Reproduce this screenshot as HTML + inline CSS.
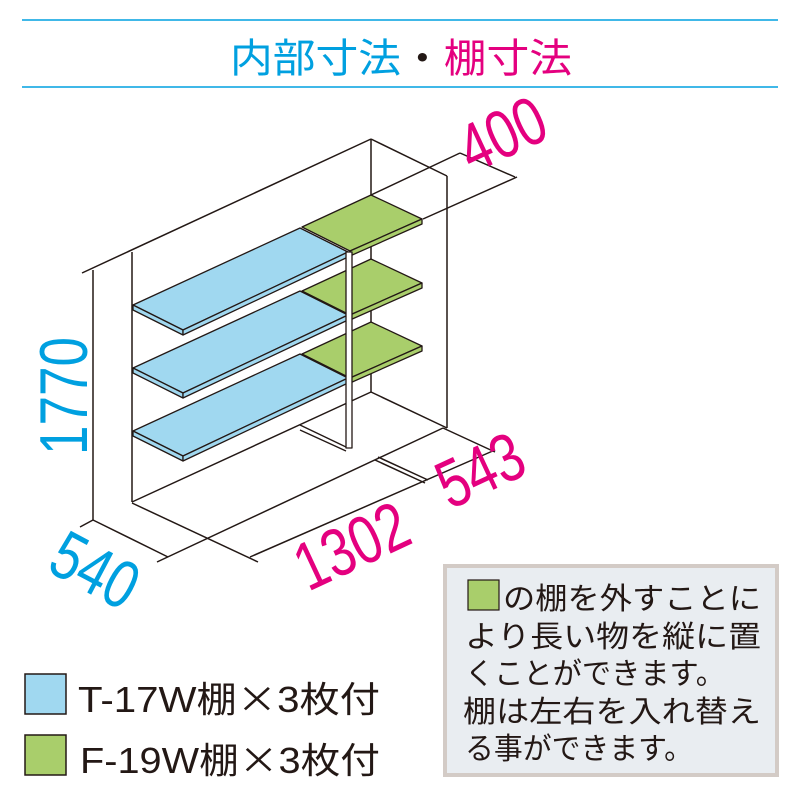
<!DOCTYPE html>
<html><head><meta charset="utf-8"><style>
html,body{margin:0;padding:0;background:#fff;}
svg{display:block}
text{font-family:"Liberation Sans","Noto Sans CJK JP",sans-serif;}
</style></head><body>
<svg width="800" height="800" viewBox="0 0 800 800" xmlns="http://www.w3.org/2000/svg">
<line x1="22" y1="20" x2="778" y2="20" stroke="#00a0e0" stroke-width="1.5"/>
<line x1="22" y1="87" x2="778" y2="87" stroke="#00a0e0" stroke-width="1.5"/>
<text x="230" y="72" font-size="40" textLength="342" lengthAdjust="spacingAndGlyphs"><tspan fill="#00a0e0">内部寸法</tspan><tspan fill="#231815">・</tspan><tspan fill="#e4007f">棚寸法</tspan></text>

<g stroke="#231815" stroke-width="1.5" fill="none">
<line x1="82" y1="273" x2="371" y2="139"/>
<line x1="371" y1="139" x2="447" y2="176"/>
<line x1="447" y1="176" x2="447" y2="428"/>
<line x1="371" y1="139" x2="371" y2="392"/>
<line x1="93" y1="270" x2="93" y2="520"/>
<line x1="132" y1="252" x2="132" y2="502"/>
<line x1="132" y1="502" x2="371" y2="392"/>
<line x1="371" y1="392" x2="447" y2="428"/>
<line x1="93" y1="520" x2="168" y2="557"/>
<line x1="80" y1="527" x2="93" y2="520"/>
<line x1="132" y1="503" x2="258" y2="562"/>
<line x1="157" y1="562" x2="443" y2="428"/>
<line x1="250" y1="557" x2="495" y2="450"/>
<line x1="443" y1="428" x2="495" y2="452"/>
<line x1="375" y1="460" x2="425" y2="483"/>
<line x1="378" y1="457" x2="428" y2="480"/>
<line x1="371" y1="195" x2="460" y2="153"/>
<line x1="423" y1="219" x2="517" y2="177"/>
<line x1="460" y1="153" x2="515" y2="177"/>
</g>

<g stroke="#231815" stroke-width="1.3" stroke-linejoin="round">
<g id="b">
<polygon points="133,305 300,228 348,252 183,330" fill="#a0d8f0"/>
<polygon points="133,305 183,330 183,335 133,310" fill="#a0d8f0"/>
<polygon points="183,330 348,252 348,257 183,335" fill="#a0d8f0"/>
</g>
<use href="#b" y="63"/>
<use href="#b" y="126"/>
<g id="g">
<polygon points="302,227 371,195 422,219 350,251" fill="#a9ce6b"/>
<polygon points="350,251 422,219 422,224 350,256" fill="#a9ce6b"/>
</g>
<use href="#g" y="64"/>
<use href="#g" y="127"/>
<polygon points="346,252 352,252 352,448 346,448" fill="#fff"/>
<line x1="300" y1="425" x2="346" y2="447"/>
<line x1="300" y1="430" x2="346" y2="451"/>
</g>

<g font-size="68">
<text transform="translate(87,455) rotate(-90) scale(0.78,1)" fill="#00a0e0">1770</text>
<text transform="translate(45,570) rotate(28) scale(0.78,1)" fill="#00a0e0">540</text>
<text transform="translate(308,592) rotate(-25) scale(0.78,1)" fill="#e4007f">1302</text>
<text transform="translate(450,510) rotate(-25) scale(0.78,1)" fill="#e4007f">543</text>
<text transform="translate(472,174) rotate(-25) scale(0.78,1)" fill="#e4007f">400</text>
</g>

<rect x="25" y="674" width="41" height="40" fill="#a0d8f0" stroke="#231815" stroke-width="1.5"/>
<rect x="25" y="735" width="41" height="40" fill="#a9ce6b" stroke="#231815" stroke-width="1.5"/>
<text x="78" y="712" font-size="36" fill="#231815" textLength="302" lengthAdjust="spacingAndGlyphs">T-17W棚<tspan font-family="Noto Sans CJK JP">×</tspan>3枚付</text>
<text x="80" y="773" font-size="36" fill="#231815" textLength="300" lengthAdjust="spacingAndGlyphs">F-19W棚<tspan font-family="Noto Sans CJK JP">×</tspan>3枚付</text>

<rect x="445" y="566" width="332" height="209" fill="#e9edf1" stroke="#d3cbc6" stroke-width="4"/>
<rect x="468" y="580" width="31" height="30" fill="#a9ce6b" stroke="#231815" stroke-width="1.2"/>
<g font-size="30" fill="#231815">
<text x="503" y="609" textLength="258" lengthAdjust="spacingAndGlyphs">の棚を外すことに</text>
<text x="465" y="647" textLength="296" lengthAdjust="spacingAndGlyphs">より長い物を縦に置</text>
<text x="465" y="684" textLength="260" lengthAdjust="spacingAndGlyphs">くことができます。</text>
<text x="463" y="722" textLength="298" lengthAdjust="spacingAndGlyphs">棚は左右を入れ替え</text>
<text x="465" y="759" textLength="228" lengthAdjust="spacingAndGlyphs">る事ができます。</text>
</g>
</svg>
</body></html>
